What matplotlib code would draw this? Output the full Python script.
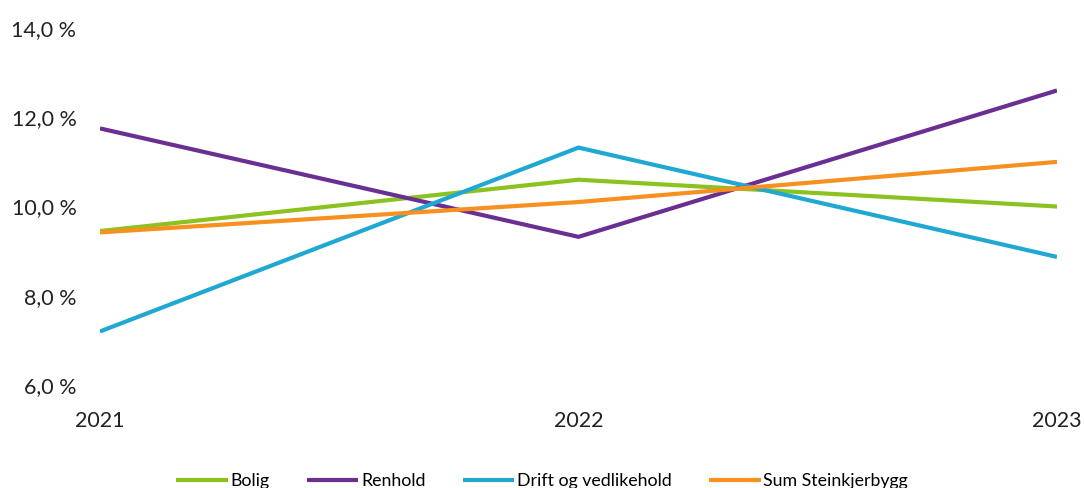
import matplotlib.pyplot as plt
from matplotlib.ticker import FuncFormatter

plt.rcParams['font.family'] = ['Lato', 'DejaVu Sans']

years = [2021, 2022, 2023]
bolig = [9.45, 10.6, 10.0]
renhold = [11.75, 9.32, 12.6]
drift = [7.2, 11.32, 8.87]
sum_steinkjerbygg = [9.42, 10.1, 11.0]

series = [
    ("Bolig", bolig, "#8cc21f"),
    ("Renhold", renhold, "#6a2f93"),
    ("Drift og vedlikehold", drift, "#1fa8d2"),
    ("Sum Steinkjerbygg", sum_steinkjerbygg, "#f7901e"),
]

fig = plt.figure(figsize=(10.84, 4.88), dpi=100)
ax = fig.add_axes([100 / 1084, 1 - 385 / 488, (1057 - 100) / 1084, (385 - 28) / 488])

for name, vals, col in series:
    ax.plot(years, vals, color=col, lw=3.0, label=name, solid_capstyle='butt')

ax.set_xlim(2021, 2023)
ax.set_ylim(6, 14)
ax.set_xticks(years)
ax.set_yticks([6, 8, 10, 12, 14])
ax.yaxis.set_major_formatter(FuncFormatter(lambda v, p: f"{v:.1f} %".replace(".", ",")))

for s in ax.spines.values():
    s.set_visible(False)
ax.tick_params(axis='both', length=0, labelsize=15.5, colors='#222222')
ax.tick_params(axis='y', pad=17)
ax.tick_params(axis='x', pad=19)

fig.legend(loc='lower center', bbox_to_anchor=(0.5, -0.035), ncol=4, frameon=False,
           fontsize=12.8, handlelength=2.9, handletextpad=0.15, columnspacing=2.1)

fig.savefig("out.png", dpi=100)
